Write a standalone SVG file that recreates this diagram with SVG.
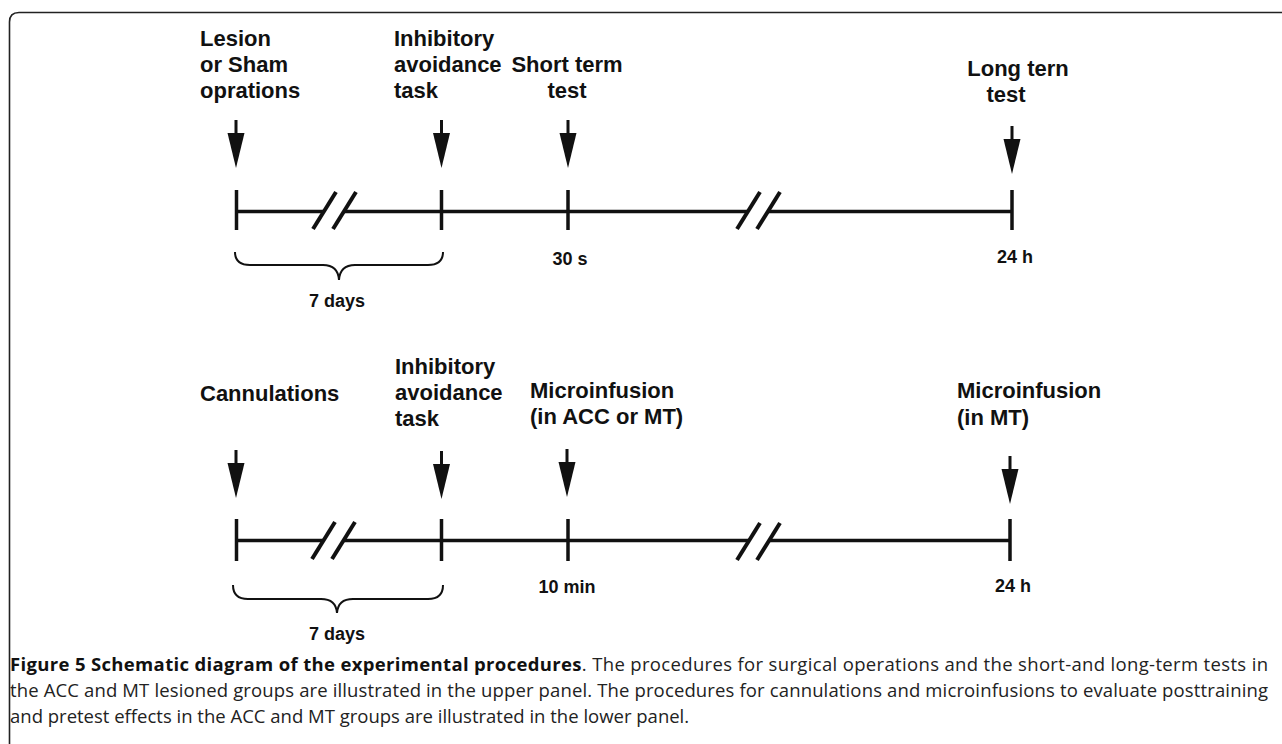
<svg xmlns="http://www.w3.org/2000/svg" xmlns:xlink="http://www.w3.org/1999/xlink" width="1282" height="744" viewBox="0 0 1282 744">
<style>
.lbl{font-family:"Liberation Sans",Arial,sans-serif;font-weight:bold;font-size:22px;fill:#111}
.sm{font-family:"Liberation Sans",Arial,sans-serif;font-weight:bold;font-size:18px;fill:#111}
.mid{text-anchor:middle}
.cap{font-family:"Open Sans","Noto Sans",sans-serif;font-size:18.5px;fill:#222}
.cap .b{font-weight:bold;fill:#111}
.tl{stroke:#111;stroke-width:3.5;fill:none}
.tick{stroke:#111;stroke-width:3.5}
.slash{stroke:#111;stroke-width:4}
.brace{stroke:#111;stroke-width:2;fill:none}
</style>
<defs>
<g id="arrow"><rect x="-1.5" y="0" width="3" height="14" fill="#111"/><polygon points="-8.5,13 8.5,13 0,48" fill="#111"/></g>
<g id="brk"><polygon points="1,0 21,0 44,-37 24,-37" fill="#fff"/><line class="slash" x1="0" y1="0" x2="23" y2="-37"/><line class="slash" x1="20" y1="0" x2="43" y2="-37"/></g>
</defs>
<rect width="1282" height="744" fill="#fff"/>
<path d="M9.5,744 V22 Q9.5,12.5 19,12.5 H1282" fill="none" stroke="#222" stroke-width="1.6"/>

<g id="connectors">
<line class="tl" x1="236.5" y1="211.5" x2="1012" y2="211.5"/>
<line class="tick" x1="236.5" y1="190" x2="236.5" y2="230"/>
<line class="tick" x1="441.5" y1="190" x2="441.5" y2="230"/>
<line class="tick" x1="568" y1="190" x2="568" y2="230"/>
<line class="tick" x1="1012" y1="190" x2="1012" y2="230"/>
<use xlink:href="#brk" x="313" y="229"/>
<use xlink:href="#brk" x="737" y="229"/>
<path class="brace" d="M235,252 Q235,265 250,265 L323,265 Q338,265 339,280 Q340,265 355,265 L428,265 Q443,265 443,252"/>

<line class="tl" x1="236.5" y1="540.5" x2="1010" y2="540.5"/>
<line class="tick" x1="236.5" y1="519" x2="236.5" y2="561"/>
<line class="tick" x1="441.5" y1="519" x2="441.5" y2="561"/>
<line class="tick" x1="568" y1="519" x2="568" y2="561"/>
<line class="tick" x1="1010" y1="519" x2="1010" y2="561"/>
<use xlink:href="#brk" x="312" y="559"/>
<use xlink:href="#brk" x="737" y="560"/>
<path class="brace" d="M233,585 Q233,599 248,599 L321,599 Q336,599 337,613 Q338,599 353,599 L428,599 Q443,599 443,585"/>
</g>

<g id="top-lesion">
<text class="lbl" x="200" y="46">Lesion</text>
<text class="lbl" x="200" y="72">or Sham</text>
<text class="lbl" x="200" y="98">oprations</text>
<use xlink:href="#arrow" x="236" y="120"/>
</g>
<g id="top-task">
<text class="lbl" x="394" y="46">Inhibitory</text>
<text class="lbl" x="394" y="72">avoidance</text>
<text class="lbl" x="394" y="98">task</text>
<use xlink:href="#arrow" x="441.5" y="120"/>
</g>
<g id="top-short">
<text class="lbl mid" x="567" y="72">Short term</text>
<text class="lbl mid" x="567" y="98">test</text>
<use xlink:href="#arrow" x="568" y="120"/>
</g>
<g id="top-long">
<text class="lbl mid" x="1018" y="76">Long tern</text>
<text class="lbl mid" x="1006" y="102">test</text>
<use xlink:href="#arrow" x="1012" y="126"/>
</g>
<g id="top-times">
<text class="sm mid" x="570" y="265">30 s</text>
<text class="sm mid" x="1015" y="263">24 h</text>
<text class="sm mid" x="337" y="307">7 days</text>
</g>

<g id="bot-cannul">
<text class="lbl" x="200" y="401">Cannulations</text>
<use xlink:href="#arrow" x="236" y="450"/>
</g>
<g id="bot-task">
<text class="lbl" x="395" y="374">Inhibitory</text>
<text class="lbl" x="395" y="400">avoidance</text>
<text class="lbl" x="395" y="426">task</text>
<use xlink:href="#arrow" x="441.5" y="451"/>
</g>
<g id="bot-micro1">
<text class="lbl" x="530" y="398">Microinfusion</text>
<text class="lbl" x="530" y="424">(in ACC or MT)</text>
<use xlink:href="#arrow" x="567" y="449"/>
</g>
<g id="bot-micro2">
<text class="lbl" x="957" y="398">Microinfusion</text>
<text class="lbl" x="957" y="425">(in MT)</text>
<use xlink:href="#arrow" x="1010" y="456"/>
</g>
<g id="bot-times">
<text class="sm mid" x="567" y="593">10 min</text>
<text class="sm mid" x="1013" y="592">24 h</text>
<text class="sm mid" x="337" y="640">7 days</text>
</g>

<g id="caption">
<text class="cap" x="10" y="671" textLength="1258" lengthAdjust="spacing"><tspan class="b">Figure 5 Schematic diagram of the experimental procedures</tspan>. The procedures for surgical operations and the short-and long-term tests in</text>
<text class="cap" x="10" y="697" textLength="1258" lengthAdjust="spacing">the ACC and MT lesioned groups are illustrated in the upper panel. The procedures for cannulations and microinfusions to evaluate posttraining</text>
<text class="cap" x="10" y="723">and pretest effects in the ACC and MT groups are illustrated in the lower panel.</text>
</g>
</svg>
